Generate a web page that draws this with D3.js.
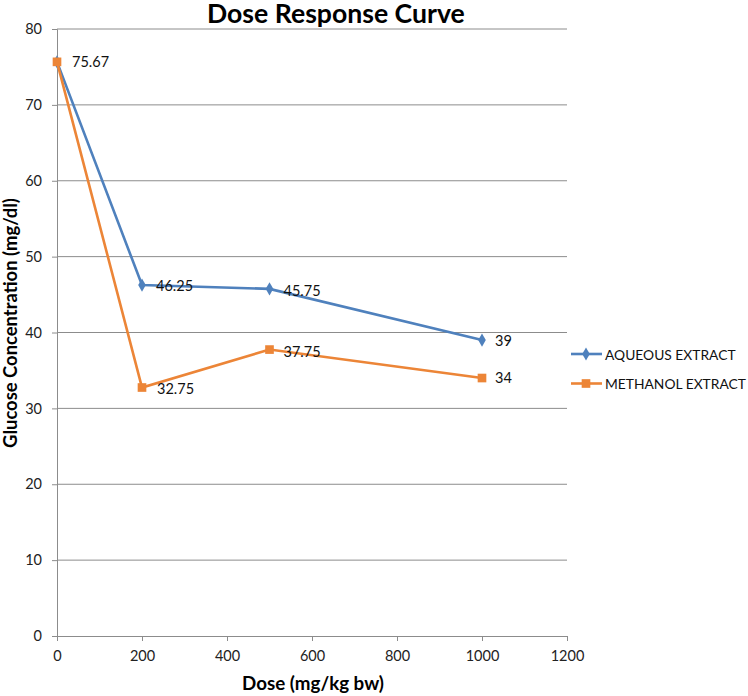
<!DOCTYPE html>
<html><head><meta charset="utf-8">
<script src="https://cdn.jsdelivr.net/npm/d3@7"></script>
<style>body{margin:0;background:#fff}svg{display:block}text{font-family:Lato,"Open Sans",sans-serif}</style>
</head><body><svg id="c" width="748" height="696"></svg>
<script>
const doses=[0,200,500,1000];
const aqueous=[75.67,46.25,45.75,39];
const methanol=[75.67,32.75,37.75,34];
const seriesNames=["AQUEOUS EXTRACT","METHANOL EXTRACT"];
const xTicks=[0,200,400,600,800,1000,1200];
const yTicks=[0,10,20,30,40,50,60,70,80];

const svg=d3.select("#c");
const x=d3.scaleLinear().domain([0,1200]).range([57,567]);
const y=d3.scaleLinear().domain([0,80]).range([636,29]);
const blue="#4F81BD", orange="#EC8537", grid="#8c8c8c";

function fit(sel,w){const n=sel.node();const fs=parseFloat(sel.attr("font-size"));const l=n.getComputedTextLength();sel.attr("font-size",fs*w/l);}

// gridlines
svg.append("g").selectAll("line").data(yTicks.filter(d=>d>0)).join("line")
 .attr("x1",x(0)).attr("x2",x(1200)).attr("y1",d=>y(d)).attr("y2",d=>y(d))
 .attr("stroke",grid).attr("stroke-width",1);

const ya=svg.append("g").attr("transform",`translate(${x(0)},0)`)
 .call(d3.axisLeft(y).tickValues(yTicks).tickSize(5).tickPadding(10));
const xa=svg.append("g").attr("transform",`translate(0,${y(0)})`)
 .call(d3.axisBottom(x).tickValues(xTicks).tickFormat(d3.format("d")).tickSize(5).tickPadding(10));
[ya,xa].forEach(a=>{a.select(".domain").attr("stroke",grid);a.selectAll(".tick line").attr("stroke",grid);
 a.selectAll("text").attr("font-size",14.5).attr("fill","#222").attr("font-family","Lato,sans-serif");});

const line=d3.line().x((d,i)=>x(doses[i])).y(d=>y(d));
function drawSeries(vals,color,shape,size){
 svg.append("path").datum(vals).attr("d",line).attr("fill","none").attr("stroke",color).attr("stroke-width",2.6);
 svg.append("g").selectAll("path").data(vals).join("path")
  .attr("transform",(d,i)=>`translate(${x(doses[i])},${y(d)})`)
  .attr("d",d3.symbol().type(shape).size(size)).attr("fill",color);
}
drawSeries(aqueous,blue,d3.symbolDiamond,50);
drawSeries(methanol,orange,d3.symbolSquare,75);

// data labels
const lbl=svg.append("g").attr("font-size",14.5).attr("fill","#111");
const aqOff=[[0,0],[14,6],[14,7],[13,6]];
const meOff=[[15,5],[15,6],[14,7],[13,5]];
aqueous.forEach((v,i)=>{ if(i>0) lbl.append("text").attr("x",x(doses[i])+aqOff[i][0]).attr("y",y(v)+aqOff[i][1]).text(v); });
methanol.forEach((v,i)=>{ lbl.append("text").attr("x",x(doses[i])+meOff[i][0]).attr("y",y(v)+meOff[i][1]).text(v); });

// title & axis titles
const t=svg.append("text").attr("x",207).attr("y",23).attr("font-size",26).attr("font-weight","bold").attr("fill","#000").text("Dose Response Curve");
fit(t,258);
const xt=svg.append("text").attr("x",313).attr("y",690).attr("text-anchor","middle").attr("font-size",17).attr("font-weight","bold").attr("fill","#000").text("Dose (mg/kg bw)");
fit(xt,142);
const yt=svg.append("text").attr("transform","translate(17,323) rotate(-90)").attr("text-anchor","middle").attr("font-size",17).attr("font-weight","bold").attr("fill","#000").text("Glucose Concentration (mg/dl)");
fit(yt,250);

// legend
const lg=svg.append("g");
const legTexts=[];
[[blue,d3.symbolDiamond,50],[orange,d3.symbolSquare,75]].forEach((s,i)=>{
 const yy=354+i*29.5;
 lg.append("line").attr("x1",571).attr("x2",602).attr("y1",yy).attr("y2",yy).attr("stroke",s[0]).attr("stroke-width",2.6);
 lg.append("path").attr("transform",`translate(586,${yy})`).attr("d",d3.symbol().type(s[1]).size(s[2])).attr("fill",s[0]);
 legTexts.push(lg.append("text").attr("x",605).attr("y",yy+5.5).attr("font-size",14.5).attr("fill","#111").text(seriesNames[i]));
});
const lw=legTexts[1].node().getComputedTextLength();
const lfs=14.5*141/lw;
legTexts.forEach(s=>s.attr("font-size",lfs));
</script></body></html>
